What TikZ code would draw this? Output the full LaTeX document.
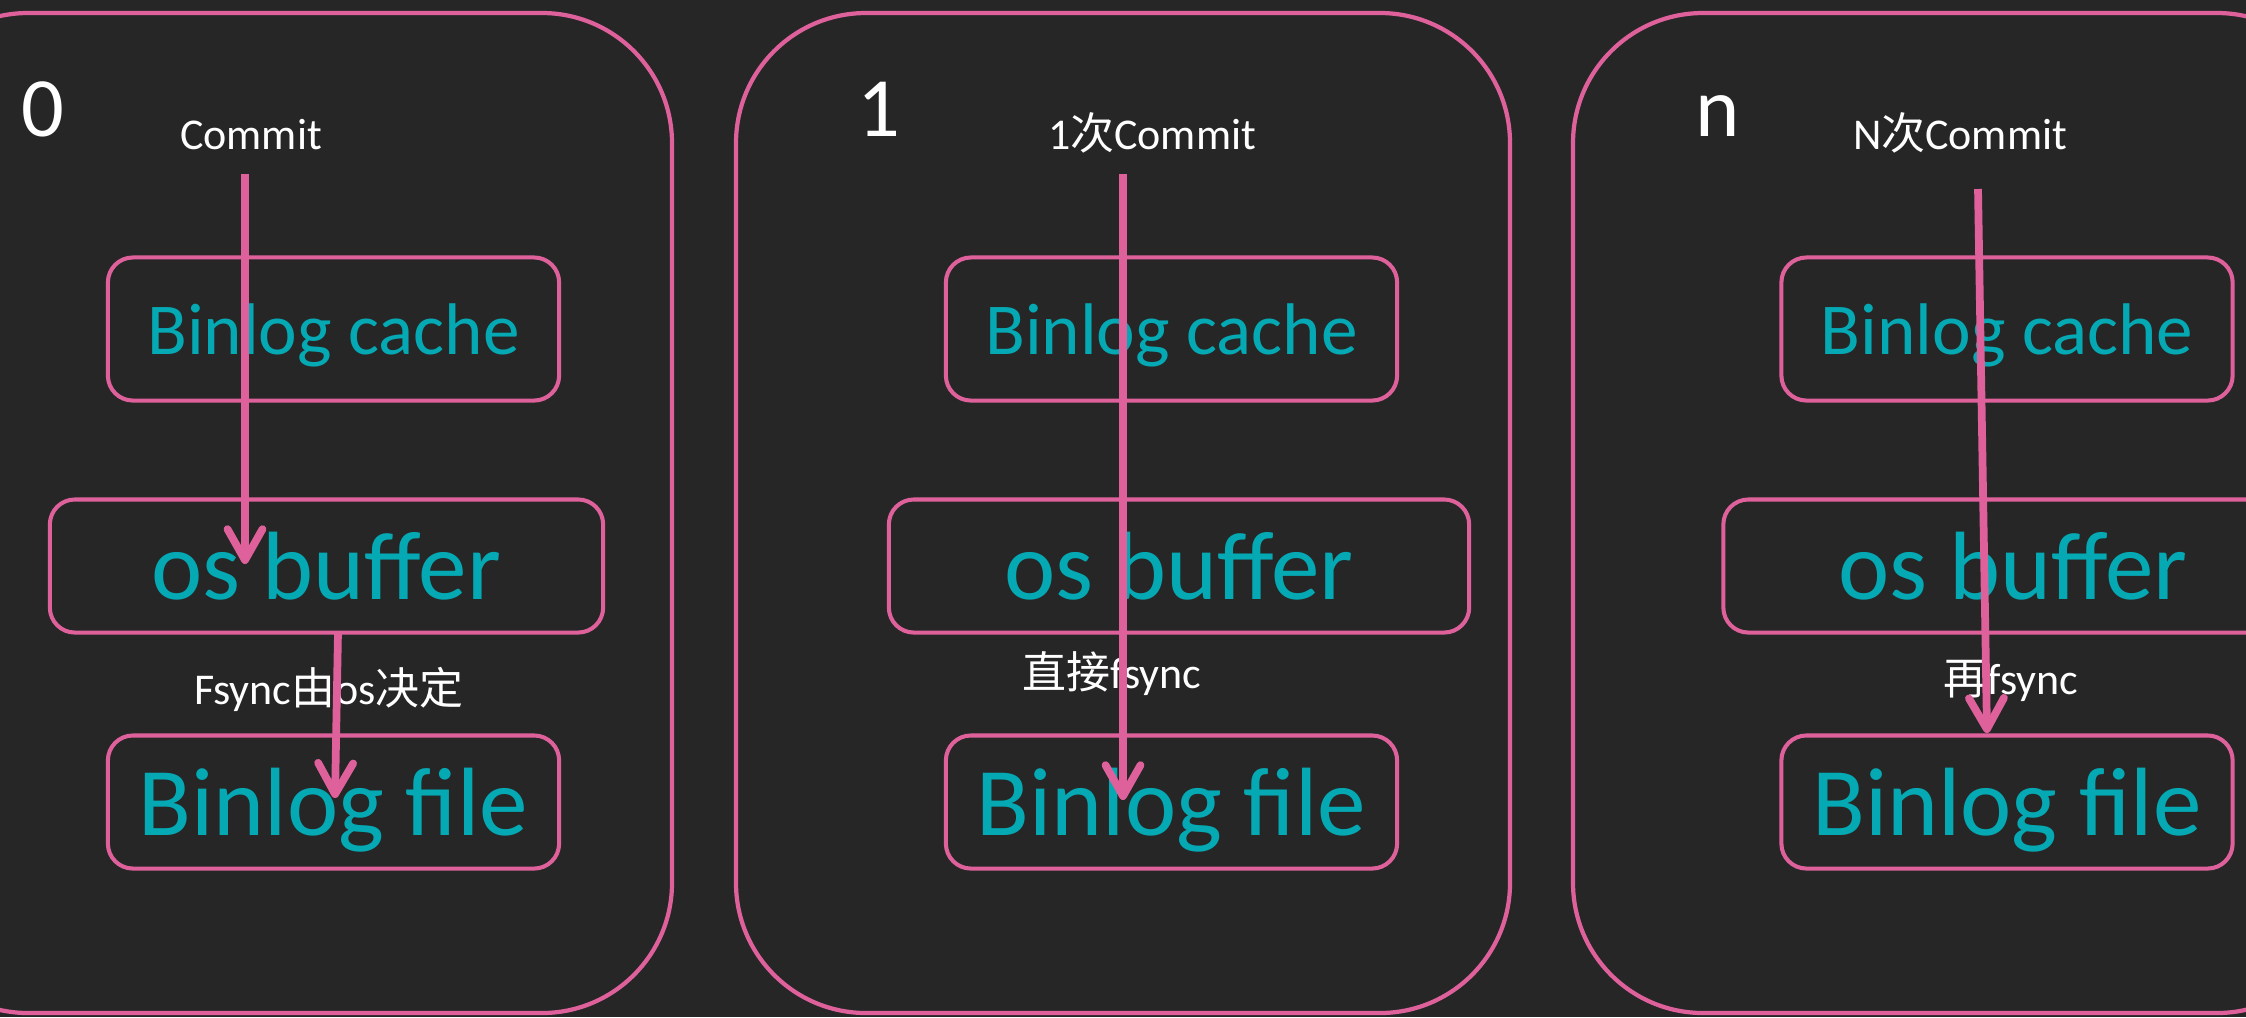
\documentclass[tikz,border=0pt]{standalone}
\usepackage{fontspec}
\setmainfont{Carlito}
\newfontfamily\cjk{Noto Sans CJK SC}
\usetikzlibrary{arrows.meta}
\definecolor{bgdark}{HTML}{262626}
\definecolor{pinkline}{HTML}{DF619B}
\definecolor{tealtext}{HTML}{04A9B4}

\begin{document}
\begin{tikzpicture}[x=0.01cm, y=-0.01cm]

        % Define custom styles for panels, boxes and labels
        \tikzset{
          panel/.style={draw=pinkline, line width=1.2pt, rounded corners=1.3cm},
          cachebox/.style={draw=pinkline, line width=1.15pt, rounded corners=0.25cm, text=tealtext, text depth=0pt, minimum width=4.51cm, minimum height=1.43cm, font=\fontsize{20.8}{22}\selectfont},
          bigbox/.style={draw=pinkline, line width=1.15pt, rounded corners=0.25cm, text=tealtext, text depth=0pt, minimum height=1.33cm, font=\fontsize{27.6}{30}\selectfont},
          numlbl/.style={text=white, anchor=base west, inner sep=0pt, font=\fontsize{24}{26}\selectfont},
          lbl/.style={text=white, anchor=base, inner sep=0pt, font=\fontsize{12.5}{14}\selectfont},
          flow/.style={draw=pinkline, line width=2.2pt, -{Straight Barb[length=3.1mm, width=3.5mm, round]}}
        }

        % Background and frame
        \useasboundingbox (0,0) rectangle (2246,1017);
        \fill[bgdark] (0,0) rectangle (2246,1017);
        \clip (0,0) rectangle (2246,1017);

        % Panels
        \draw[panel] (-102,13) rectangle (672,1013);
        \draw[panel] (736,13) rectangle (1510,1013);
        \draw[panel] (1573,13) rectangle (2347,1013);

        % Panel 0
        \node[numlbl] (num0) at (21,136) {0};
        \node[lbl] (commit0) at (251,149) {Commit};
        \node[cachebox] (cache0) at (333.5,329) {Binlog cache};
        \node[bigbox, minimum width=5.53cm] (buffer0) at (326.5,566) {os buffer};
        \node[lbl] (sync0) at (329,704) {Fsync{\cjk 由}os{\cjk 决定}};
        \node[bigbox, minimum width=4.51cm] (file0) at (333.5,802) {Binlog file};

        % Panel 1
        \node[numlbl] (num1) at (857,136) {1};
        \node[lbl] (commit1) at (1152,149) {1{\cjk 次}Commit};
        \node[cachebox] (cache1) at (1171.5,329) {Binlog cache};
        \node[bigbox, minimum width=5.80cm] (buffer1) at (1179,566) {os buffer};
        \node[lbl] (sync1) at (1112,688) {{\cjk 直接}fsync};
        \node[bigbox, minimum width=4.51cm] (file1) at (1171.5,802) {Binlog file};

        % Panel n
        \node[numlbl] (num2) at (1695,136) {n};
        \node[lbl] (commit2) at (1960,149) {N{\cjk 次}Commit};
        \node[cachebox] (cache2) at (2007,329) {Binlog cache};
        \node[bigbox, minimum width=5.79cm] (buffer2) at (2013,566) {os buffer};
        \node[lbl] (sync2) at (2011,694) {{\cjk 再}fsync};
        \node[bigbox, minimum width=4.51cm] (file2) at (2007,802) {Binlog file};

        % Arrow ends
        \coordinate (a0s) at (245,174);
        \coordinate (a0e) at (245,564);
        \coordinate (b0s) at (338,632);
        \coordinate (b0e) at (335,798);
        \coordinate (a1s) at (1123,174);
        \coordinate (a1e) at (1123,800);
        \coordinate (a2s) at (1978,189);
        \coordinate (a2e) at (1987,733);

        % Draw the commit flows
        \draw[flow] (a0s) -- (a0e);
        \draw[flow] (b0s) -- (b0e);
        \draw[flow] (a1s) -- (a1e);
        \draw[flow] (a2s) -- (a2e);

\end{tikzpicture}
\end{document}
